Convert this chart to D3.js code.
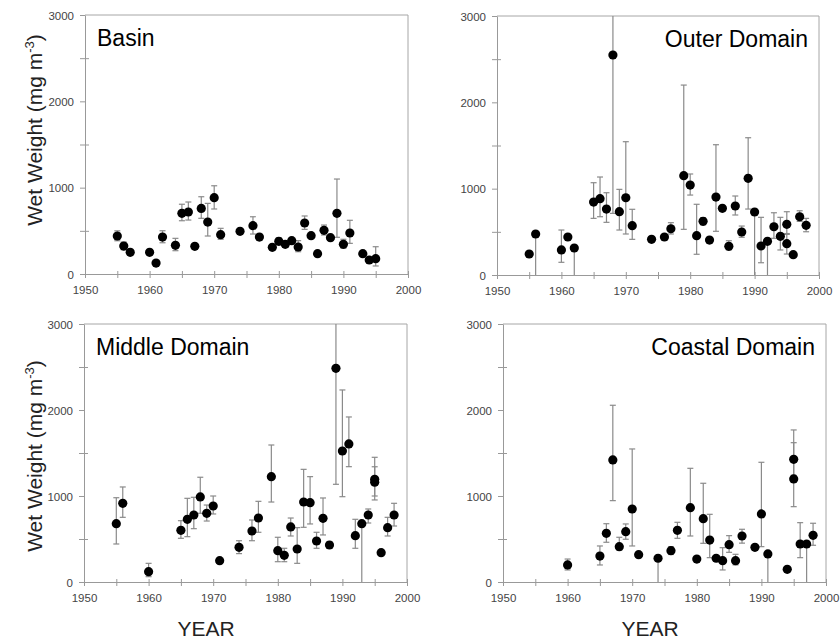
<!DOCTYPE html>
<html>
<head>
<meta charset="utf-8">
<script src="https://cdn.jsdelivr.net/npm/d3@7"></script>
<style>
  body { margin: 0; background: #fff; }
  svg { font-family: "Liberation Sans", Arial, sans-serif; }
  .axis path, .axis line { stroke: #999; }
  .axis text { fill: #444; font-size: 11.5px; }
</style>
</head>
<body>
<svg id="chart" width="840" height="640"></svg>
<script>
// ---- data ----
// lo / hi = ends of the error bar, null = no bar on that side
var basinYear = [1955,1956,1957,1960,1961,1962,1964,1965,1966,1967,1968,1969,1970,1971,1974,1976,1977,1979,1980,1981,1982,1983,1984,1985,1986,1987,1988,1989,1990,1991,1993,1994,1995]
var basinMean = [440,324,251,251,127,428,332,703,718,321,760,602,884,455,494,560,428,309,378,344,386,313,591,444,235,506,421,703,344,475,235,162,177]
var basinLo   = [385,280,null,null,null,362,270,617,625,null,645,440,753,402,null,463,null,null,340,310,null,258,517,null,null,452,null,425,298,355,null,null,93]
var basinHi   = [500,370,null,null,null,501,413,808,834,null,895,818,1022,529,null,663,null,null,420,380,null,386,672,null,null,567,null,1100,402,622,null,null,316]

var outerYear = [1955,1956,1960,1961,1962,1965,1966,1967,1968,1969,1970,1971,1974,1976,1977,1979,1980,1981,1982,1983,1984,1985,1986,1987,1988,1989,1990,1991,1992,1993,1994,1995,1995,1996,1997,1998]
var outerMean = [243,475,290,440,313,845,884,764,2548,733,895,571,413,440,536,1150,1042,455,622,405,903,772,332,799,498,1120,730,336,390,559,448,587,363,235,675,575]
var outerLo   = [null,-300,147,null,-300,656,675,610,714,521,475,413,null,null,475,529,926,240,580,null,506,null,290,695,437,764,-300,142,-300,425,290,480,243,null,621,501]
var outerHi   = [null,null,521,null,null,1069,1135,953,3300,992,1544,761,null,null,606,2200,1170,819,665,null,1509,null,397,915,567,1590,null,668,null,721,668,733,470,null,744,656]

var middleYear = [1955,1956,1960,1965,1966,1967,1968,1969,1970,1971,1974,1976,1977,1979,1980,1981,1982,1983,1984,1985,1986,1987,1988,1989,1990,1991,1992,1993,1994,1995,1995,1996,1997,1998]
var middleMean = [678,915,120,601,729,779,989,799,884,248,403,593,744,1225,364,310,640,384,930,922,477,740,430,2485,1523,1605,539,678,779,1195,1160,341,632,779]
var middleLo   = [442,752,62,508,527,620,799,709,791,null,330,480,578,930,236,236,535,217,636,675,392,547,395,1136,992,1341,392,-300,686,1000,954,null,535,651]
var middleHi   = [980,1105,217,713,973,985,1218,895,1000,null,480,721,938,1593,520,392,744,632,1310,1225,578,977,465,3300,2233,1919,729,null,849,1450,1340,null,752,915]

var coastalYear = [1960,1965,1966,1967,1968,1969,1970,1971,1974,1976,1977,1979,1980,1981,1982,1983,1984,1985,1986,1987,1989,1990,1991,1994,1995,1995,1996,1997,1998]
var coastalMean = [198,302,566,1419,411,585,849,318,276,364,601,864,267,736,488,276,248,434,248,535,403,791,326,147,1427,1198,442,442,543]
var coastalLo   = [140,198,462,946,372,497,419,null,-300,320,508,535,null,450,283,null,140,345,199,452,null,411,-300,null,1240,876,283,-300,427]
var coastalHi   = [267,419,678,2055,520,675,1547,null,null,410,694,1322,null,1148,787,null,399,539,322,613,null,1392,null,null,1768,1620,690,null,683]

var panelNames = ["Basin", "Outer Domain", "Middle Domain", "Coastal Domain"]
var xTicks = [1950,1955,1960,1965,1970,1975,1980,1985,1990,1995,2000]
var yTicks = [0,500,1000,1500,2000,2500,3000]

var svg = d3.select("#chart")

var drawPanel = function(box, name, years, means, lo, hi, titleRight) {
    var g = svg.append("g").attr("transform", "translate(" + box.left + "," + box.top + ")")

    var xScale = d3.scaleLinear().domain([1950, 2000]).range([0, box.width])
    var yScale = d3.scaleLinear().domain([0, 3000]).range([box.height, 0])

    var clipId = "clip-" + name.replace(" ", "")
    g.append("clipPath").attr("id", clipId)
      .append("rect").attr("width", box.width).attr("height", box.height)

    // frame (top + right)
    g.append("path")
        .attr("d", "M0,0H" + box.width + "V" + box.height)
        .attr("fill", "none")
        .attr("stroke", "#a6a6a6")

    var xAxis = d3.axisBottom(xScale)
        .tickValues(xTicks)
        .tickFormat(function(d) { return d % 10 === 0 ? d : "" })
        .tickSizeInner(4).tickSizeOuter(0).tickPadding(8)
    var gx = g.append("g").attr("class", "axis")
        .attr("transform", "translate(0," + box.height + ")")
        .call(xAxis)
    gx.selectAll(".tick line").attr("y1", -3)

    var yAxis = d3.axisLeft(yScale)
        .tickValues(yTicks)
        .tickFormat(function(d) { return d % 1000 === 0 ? d : "" })
        .tickSizeInner(5).tickSizeOuter(0).tickPadding(6)
    var gy = g.append("g").attr("class", "axis").call(yAxis)
    gy.selectAll(".tick line").attr("x1", function(d) { return d % 1000 === 0 ? 0 : 4 })
    gy.selectAll(".tick text").attr("dy", "0.35em")

    var pts = years.map(function(y, i) { return {year: y, mean: means[i], lo: lo[i], hi: hi[i]} })

    var marks = g.append("g").attr("clip-path", "url(#" + clipId + ")")

    var bars = pts.filter(function(d) { return d.lo !== null || d.hi !== null })
    marks.selectAll("line.err")
      .data(bars)
      .enter()
      .append("line")
        .attr("class", "err")
        .attr("x1", d => xScale(d.year))
        .attr("x2", d => xScale(d.year))
        .attr("y1", d => yScale(d.lo === null ? d.mean : d.lo))
        .attr("y2", d => yScale(d.hi === null ? d.mean : d.hi))
        .attr("stroke", "#8a8a8a")
        .attr("stroke-width", 1.2)

    var caps = []
    bars.forEach(function(d) {
        if (d.lo !== null && d.lo >= 0) caps.push({year: d.year, v: d.lo})
        if (d.hi !== null && d.hi <= 3000) caps.push({year: d.year, v: d.hi})
    })
    marks.selectAll("line.cap")
      .data(caps)
      .enter()
      .append("line")
        .attr("class", "cap")
        .attr("x1", d => xScale(d.year) - 3)
        .attr("x2", d => xScale(d.year) + 3)
        .attr("y1", d => yScale(d.v))
        .attr("y2", d => yScale(d.v))
        .attr("stroke", "#8a8a8a")
        .attr("stroke-width", 1.2)

    g.selectAll("circle.dot")
      .data(pts)
      .enter()
      .append("circle")
        .attr("class", "dot")
        .attr("cx", d => xScale(d.year))
        .attr("cy", d => yScale(d.mean))
        .attr("r", 4.6)
        .attr("fill", "#000")

    g.append("text")
        .text(name)
        .attr("x", titleRight ? box.width - 11 : 12)
        .attr("y", 31)
        .attr("text-anchor", titleRight ? "end" : "start")
        .style("font-size", "23px")
        .style("fill", "#000")
}

var drawLabels = function() {
    [130, 456].forEach(function(cy) {
        var t = svg.append("text")
            .attr("transform", "translate(42," + cy + ") rotate(-90)")
            .attr("text-anchor", "middle")
            .style("font-size", "21px")
            .style("fill", "#222")
        t.append("tspan").text("Wet Weight (mg m")
        t.append("tspan").text("-3").attr("dy", -8).style("font-size", "13px")
        t.append("tspan").text(")").attr("dy", 8)
    })
    ;[206, 650].forEach(function(cx) {
        svg.append("text")
            .text("YEAR")
            .attr("x", cx)
            .attr("y", 636)
            .attr("text-anchor", "middle")
            .style("font-size", "21px")
            .style("fill", "#222")
    })
}

drawPanel({left: 85, top: 15, width: 323, height: 259}, panelNames[0], basinYear, basinMean, basinLo, basinHi, false)
drawPanel({left: 497, top: 16, width: 322, height: 259}, panelNames[1], outerYear, outerMean, outerLo, outerHi, true)
drawPanel({left: 84, top: 324, width: 323, height: 258}, panelNames[2], middleYear, middleMean, middleLo, middleHi, false)
drawPanel({left: 503, top: 324, width: 323, height: 258}, panelNames[3], coastalYear, coastalMean, coastalLo, coastalHi, true)
drawLabels()
</script>
</body>
</html>
